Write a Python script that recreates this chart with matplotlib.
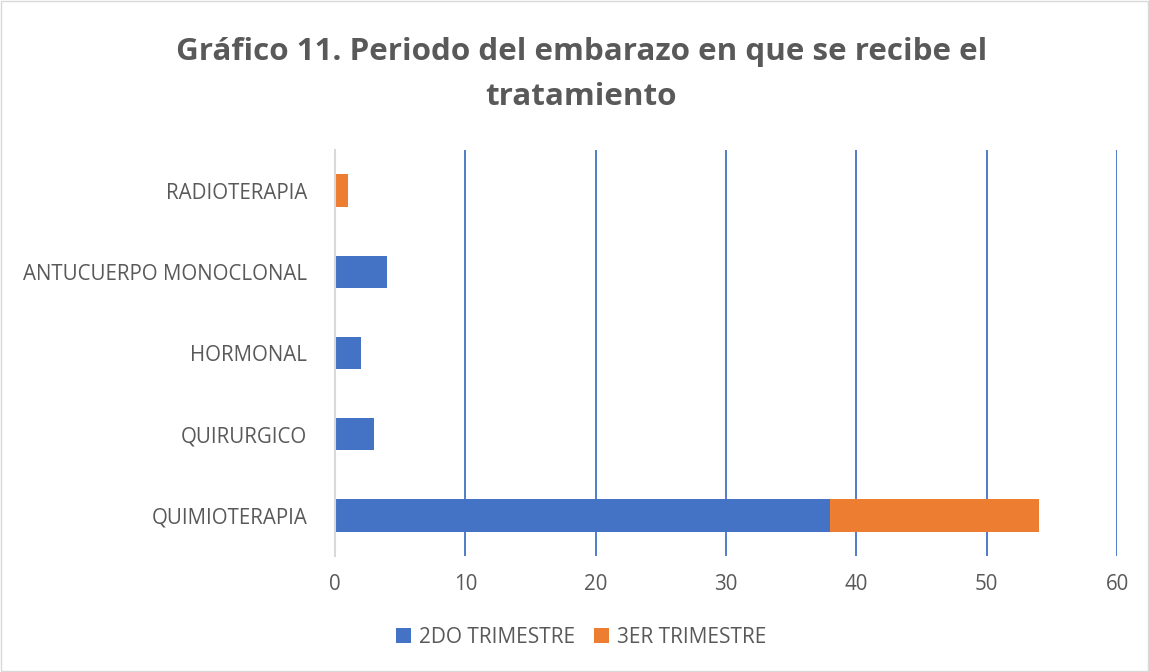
import matplotlib.pyplot as plt
import numpy as np

plt.rcParams["font.family"] = ["Open Sans", "DejaVu Sans"]

# Data
categories = ["QUIMIOTERAPIA", "QUIRURGICO", "HORMONAL", "ANTUCUERPO MONOCLONAL", "RADIOTERAPIA"]
segundo_trim = [38, 3, 2, 4, 0]
tercer_trim = [16, 0, 0, 0, 1]
x_ticks = [0, 10, 20, 30, 40, 50, 60]

BLUE = "#4472C4"
ORANGE = "#ED7D31"
TEXT = "#595959"

fig = plt.figure(figsize=(11.49, 6.72), dpi=100)
ax = fig.add_axes([0.2916, 0.1726, 0.6806, 0.6042])

y = np.arange(len(categories))
ax.barh(y, segundo_trim, height=0.4, color=BLUE, label="2DO TRIMESTRE", zorder=3)
ax.barh(y, tercer_trim, height=0.4, left=segundo_trim, color=ORANGE,
        label="3ER TRIMESTRE", zorder=3)

ax.set_xlim(0, 60)
ax.set_ylim(-0.5, len(categories) - 0.5)
ax.set_xticks(x_ticks)
ax.set_yticks(y)
ax.set_yticklabels(categories)
ax.tick_params(axis="both", length=0, labelsize=14.8, colors=TEXT)
ax.tick_params(axis="x", pad=13)
ax.tick_params(axis="y", pad=20)

ax.grid(axis="x", color=BLUE, linewidth=1.3, zorder=0)
for s in ["top", "right", "bottom"]:
    ax.spines[s].set_visible(False)
ax.spines["left"].set_color("#D9D9D9")
ax.spines["left"].set_linewidth(1.5)
ax.spines["left"].set_zorder(4)

fig.suptitle("Gráfico 11. Periodo del embarazo en que se recibe el\ntratamiento",
             x=0.506, y=0.945, fontsize=22.6, fontweight="bold", color=TEXT,
             linespacing=1.65)

fig.legend(*ax.get_legend_handles_labels(), loc="center",
           bbox_to_anchor=(0.506, 0.052), ncol=2, frameon=False,
           fontsize=15, labelcolor=TEXT, handlelength=0.7, handleheight=0.7,
           handletextpad=0.4, columnspacing=0.9)

# light border around the chart area
fig.patches.append(plt.Rectangle((0.001, 0.001), 0.998, 0.997, transform=fig.transFigure,
                                 fill=False, edgecolor="#D9D9D9", linewidth=1))

fig.savefig("out.png", dpi=100)
